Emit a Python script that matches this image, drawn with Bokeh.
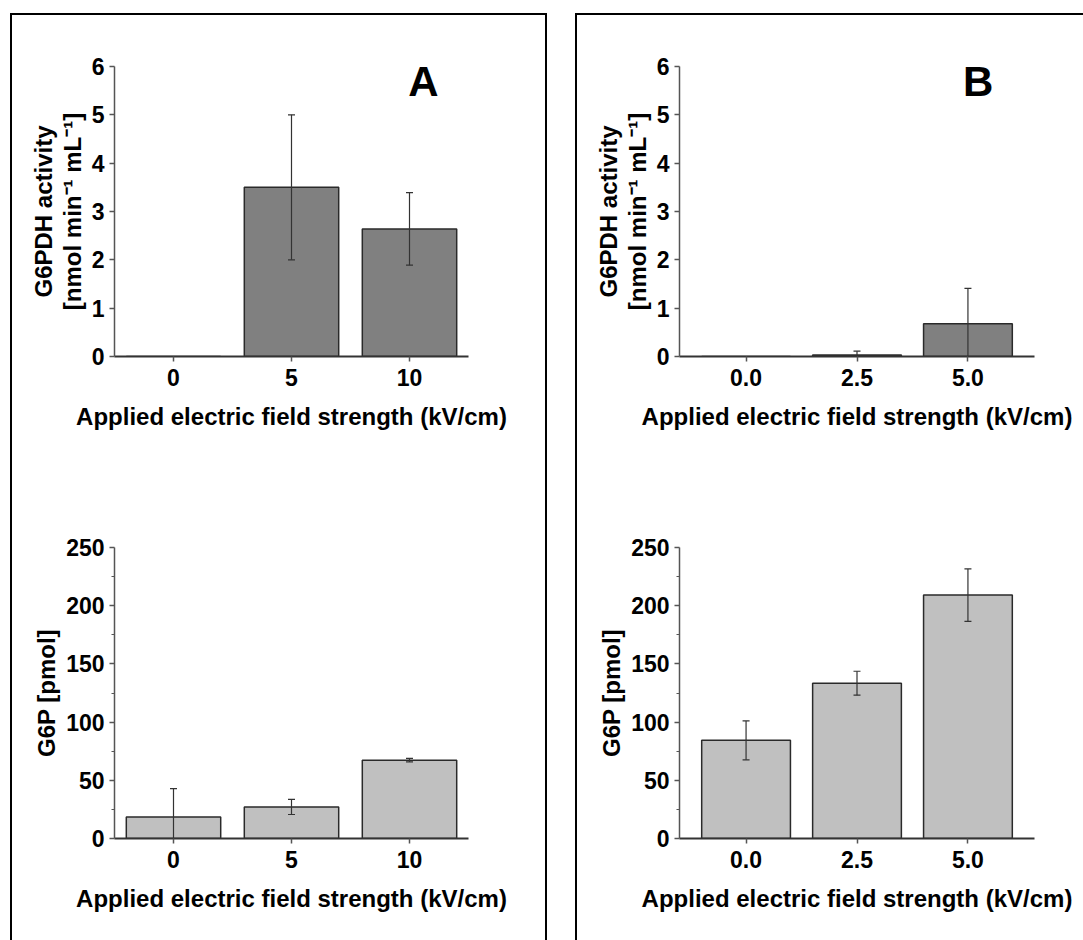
from bokeh.plotting import figure
from bokeh.models import Range1d, FixedTicker, ColumnDataSource, Label, Spacer
from bokeh.layouts import row, column
from bokeh.embed import file_html
from bokeh.resources import INLINE

# ---------------- data ----------------
field_A = [0, 5, 10]
field_A_labels = ["0", "5", "10"]
field_B = [0.0, 2.5, 5.0]
field_B_labels = ["0.0", "2.5", "5.0"]

g6pdh_A = [0.0, 3.5, 2.64]
g6pdh_A_err = [0.0, 1.5, 0.75]
g6pdh_B = [0.0, 0.03, 0.68]
g6pdh_B_err = [0.0, 0.08, 0.73]

g6p_A = [18.5, 27.1, 67.3]
g6p_A_err = [24.4, 6.5, 1.5]
g6p_B = [84.3, 133.4, 209.1]
g6p_B_err = [16.7, 10.3, 22.5]

y_top_ticks = [0, 1, 2, 3, 4, 5, 6]
y_bot_ticks = [0, 50, 100, 150, 200, 250]
y_bot_minor = [25, 75, 125, 175, 225]

x_title = "Applied electric field strength (kV/cm)"
y_title_top = "G6PDH activity\n[nmol min\u207b\u00b9 mL\u207b\u00b9]"
y_title_bot = "G6P [pmol]"
panel_letters = ["A", "B"]

FONT = "Liberation Sans"


def make_fig(width, height, borders, xs, xlabels, xr, bar_w, ys, errs, fill,
             yr, yticks, yminor, ylabel):
    p = figure(width=width, height=height, x_range=Range1d(*xr), y_range=Range1d(*yr),
               output_backend="svg", toolbar_location=None,
               min_border_left=borders[0], min_border_right=borders[1],
               min_border_top=borders[2], min_border_bottom=borders[3])
    p.outline_line_color = None
    p.grid.visible = False
    p.background_fill_color = "white"
    p.border_fill_color = "white"

    src = ColumnDataSource(dict(
        x=xs, top=ys,
        up=[v + e for v, e in zip(ys, errs)],
        lo=[v - e for v, e in zip(ys, errs)],
    ))
    p.vbar(x="x", top="top", bottom=0, width=bar_w, fill_color=fill,
           line_color="#2a2a2a", line_width=1.5, source=src)
    p.segment(x0="x", y0="lo", x1="x", y1="up", line_color="#333333",
              line_width=1.2, source=src)
    p.scatter(x="x", y="up", marker="dash", size=7, line_color="#333333",
              line_width=1.2, source=src)
    p.scatter(x="x", y="lo", marker="dash", size=7, line_color="#333333",
              line_width=1.2, source=src)

    xa = p.xaxis[0]
    xa.ticker = FixedTicker(ticks=xs)
    xa.major_label_overrides = {x: l for x, l in zip(xs, xlabels)}
    xa.axis_label = x_title
    xa.axis_label_text_font = FONT
    xa.axis_label_text_font_style = "bold"
    xa.axis_label_text_font_size = "24px"
    xa.axis_label_text_color = "black"
    xa.axis_label_standoff = 14
    xa.major_label_text_font = FONT
    xa.major_label_text_font_style = "bold"
    xa.major_label_text_font_size = "23px"
    xa.major_label_text_color = "black"
    xa.major_label_standoff = 7
    xa.axis_line_color = "#333333"
    xa.axis_line_width = 2
    xa.major_tick_line_color = "#555555"
    xa.major_tick_line_width = 1.5
    xa.major_tick_out = 5
    xa.major_tick_in = 0
    xa.minor_tick_line_color = None

    ya = p.yaxis[0]
    ya.ticker = FixedTicker(ticks=yticks, minor_ticks=yminor)
    ya.axis_label = ylabel
    ya.axis_label_text_font = FONT
    ya.axis_label_text_font_style = "bold"
    ya.axis_label_text_font_size = "24px"
    ya.axis_label_text_color = "black"
    ya.axis_label_text_line_height = 1.05
    ya.axis_label_standoff = 3
    ya.major_label_text_font = FONT
    ya.major_label_text_font_style = "bold"
    ya.major_label_text_font_size = "23px"
    ya.major_label_text_color = "black"
    ya.major_label_standoff = 5
    ya.axis_line_color = "#555555"
    ya.axis_line_width = 1.5
    ya.major_tick_line_color = "#555555"
    ya.major_tick_line_width = 1.5
    ya.major_tick_out = 5
    ya.major_tick_in = 0
    ya.minor_tick_line_color = "#555555"
    ya.minor_tick_line_width = 1
    ya.minor_tick_out = 3
    ya.minor_tick_in = 0
    return p


pAt = make_fig(533, 461, (102, 77, 51, 120), field_A, field_A_labels, (-2.5, 12.5), 4,
               g6pdh_A, g6pdh_A_err, "#808080", (0, 6), y_top_ticks, [], y_title_top)
pAb = make_fig(533, 464, (102, 77, 71, 102), field_A, field_A_labels, (-2.5, 12.5), 4,
               g6p_A, g6p_A_err, "#c0c0c0", (0, 250), y_bot_ticks, y_bot_minor, y_title_bot)
pBt = make_fig(506, 461, (102, 49, 51, 120), field_B, field_B_labels, (-1.5, 6.5), 2,
               g6pdh_B, g6pdh_B_err, "#808080", (0, 6), y_top_ticks, [], y_title_top)
pBb = make_fig(506, 464, (102, 49, 71, 102), field_B, field_B_labels, (-1.5, 6.5), 2,
               g6p_B, g6p_B_err, "#c0c0c0", (0, 250), y_bot_ticks, y_bot_minor, y_title_bot)

pAt.add_layout(Label(x=10.59, y=5.69, text=panel_letters[0], text_align="center",
                     text_baseline="alphabetic", text_font=FONT, text_font_style="bold",
                     text_font_size="42px", text_color="black"))
pBt.add_layout(Label(x=5.23, y=5.69, text=panel_letters[1], text_align="center",
                     text_baseline="alphabetic", text_font=FONT, text_font_style="bold",
                     text_font_size="42px", text_color="black"))

colA = column(pAt, pAb, styles={"border-left": "2px solid #000", "border-top": "2px solid #000",
                                "border-right": "2px solid #000"})
colB = column(pBt, pBb, styles={"border-left": "2px solid #000", "border-top": "2px solid #000"})

layout = column(Spacer(height=13, width=10),
                row(Spacer(width=10, height=10), colA, Spacer(width=28, height=10), colB))

open("out.html", "w").write(file_html(layout, INLINE))
